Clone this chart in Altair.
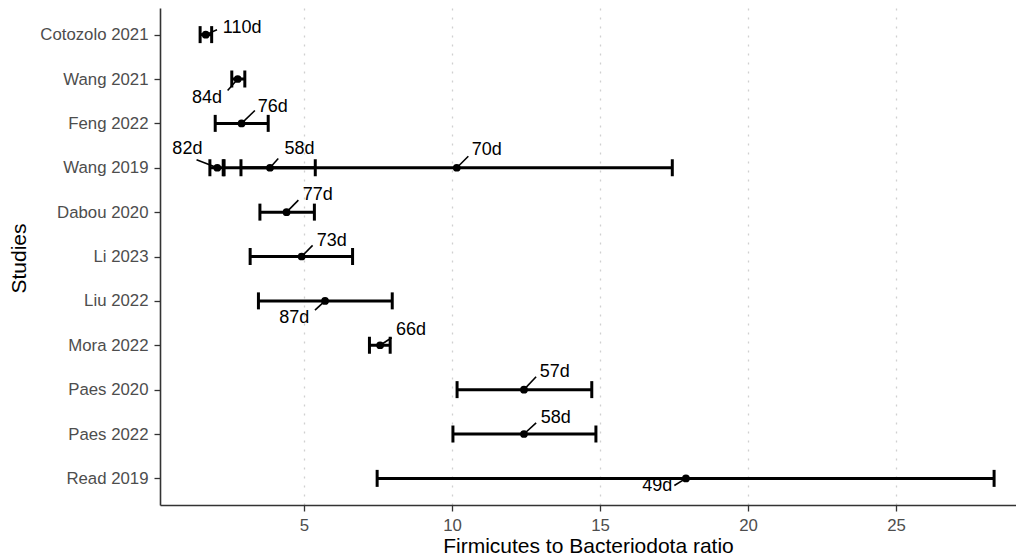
import altair as alt
import pandas as pd

study_order = ["Cotozolo 2021", "Wang 2021", "Feng 2022", "Wang 2019", "Dabou 2020",
               "Li 2023", "Liu 2022", "Mora 2022", "Paes 2020", "Paes 2022", "Read 2019"]

study = ["Cotozolo 2021", "Wang 2021", "Feng 2022", "Wang 2019", "Wang 2019", "Wang 2019",
         "Dabou 2020", "Li 2023", "Liu 2022", "Mora 2022", "Paes 2020", "Paes 2022", "Read 2019"]
days = ["110d", "84d", "76d", "82d", "58d", "70d", "77d", "73d", "87d", "66d", "57d", "58d", "49d"]
ratio = [1.68, 2.76, 2.89, 2.07, 3.85, 10.16, 4.41, 4.92, 5.71, 7.57, 12.43, 12.43, 17.9]
lower = [1.49, 2.56, 2.0, 1.82, 2.3, 2.87, 3.51, 3.18, 3.46, 7.21, 10.17, 10.03, 7.47]
upper = [1.88, 3.0, 3.79, 2.27, 5.38, 17.44, 5.35, 6.64, 7.98, 7.91, 14.72, 14.86, 28.31]

# repelled label positions (data units) and segment end points
label_x = [2.91, 1.72, 3.94, 1.06, 4.85, 11.17, 5.46, 5.94, 4.67, 8.61, 13.47, 13.5, 16.93]
label_dy = [-0.15, 0.43, -0.38, -0.42, -0.42, -0.39, -0.38, -0.36, 0.38, -0.34, -0.39, -0.36, 0.18]
seg_x = [2.06, 2.42, 3.34, 1.37, 4.13, 10.55, 4.81, 5.29, 5.37, 7.96, 12.84, 12.84, 17.51]
seg_dy = [-0.11, 0.26, -0.29, -0.18, -0.21, -0.26, -0.27, -0.25, 0.21, -0.17, -0.29, -0.25, 0.16]

rows = [study_order.index(s) for s in study]
df = pd.DataFrame({
    "study": study, "days": days, "ratio": ratio, "lower": lower, "upper": upper,
    "row": rows,
    "label_x": label_x,
    "label_y": [r + d for r, d in zip(rows, label_dy)],
    "seg_x": seg_x,
    "seg_y": [r + d for r, d in zip(rows, seg_dy)],
})

label_array = "[" + ",".join("'" + s + "'" for s in study_order) + "]"

x_scale = alt.Scale(domain=[0.135, 29.05], nice=False, zero=False)
y_scale = alt.Scale(domain=[-0.6, 10.6], reverse=True, nice=False, zero=False)

x_axis = alt.Axis(values=[5, 10, 15, 20, 25], title="Firmicutes to Bacteriodota ratio",
                  grid=True, gridColor="#d0d0d0", gridDash=[2, 7], gridWidth=1.3,
                  titleY=41, titleBaseline="middle")
y_axis = alt.Axis(values=list(range(len(study_order))), labelExpr=label_array + "[datum.value]",
                  title="Studies", grid=False, titleX=-141, titleY=250,
                  titleBaseline="middle", titleAngle=-90)

base = alt.Chart(df)

segments = base.mark_rule(color="black", strokeWidth=1.6).encode(
    x=alt.X("ratio:Q", scale=x_scale, axis=x_axis),
    x2="seg_x:Q",
    y=alt.Y("row:Q", scale=y_scale, axis=y_axis),
    y2="seg_y:Q",
)

bars = base.mark_rule(color="black", strokeWidth=3).encode(
    x=alt.X("lower:Q", scale=x_scale),
    x2="upper:Q",
    y=alt.Y("row:Q", scale=y_scale),
)

caps_lo = base.mark_rule(color="black", strokeWidth=3, yOffset=-8.5, y2Offset=8.5).encode(
    x=alt.X("lower:Q", scale=x_scale),
    y=alt.Y("row:Q", scale=y_scale),
    y2="row:Q",
)
caps_hi = base.mark_rule(color="black", strokeWidth=3, yOffset=-8.5, y2Offset=8.5).encode(
    x=alt.X("upper:Q", scale=x_scale),
    y=alt.Y("row:Q", scale=y_scale),
    y2="row:Q",
)

points = base.mark_circle(color="black", size=60, opacity=1).encode(
    x=alt.X("ratio:Q", scale=x_scale),
    y=alt.Y("row:Q", scale=y_scale),
)

labels = base.mark_text(color="black", fontSize=18, font="Liberation Sans",
                        align="center", baseline="middle").encode(
    x=alt.X("label_x:Q", scale=x_scale),
    y=alt.Y("label_y:Q", scale=y_scale),
    text="days:N",
)

chart = alt.layer(segments, bars, caps_lo, caps_hi, points, labels).properties(
    width=856, height=497,
    autosize=alt.AutoSizeParams(type="none"),
    padding={"left": 152, "top": 0, "right": 0, "bottom": 54},
).configure_view(stroke=None).configure_axis(
    domainColor="#333333", domainWidth=1.6,
    tickColor="#333333", tickWidth=1.3, tickSize=6,
    labelColor="#4d4d4d", labelFontSize=16.8, labelFont="Liberation Sans",
    labelPadding=6,
    titleColor="black", titleFontSize=21, titleFont="Liberation Sans", titleFontWeight="normal",
).configure_axisY(domain=True).configure_axisX(domain=True)

chart.save("out.html", embed_options={"renderer": "svg", "actions": False})
